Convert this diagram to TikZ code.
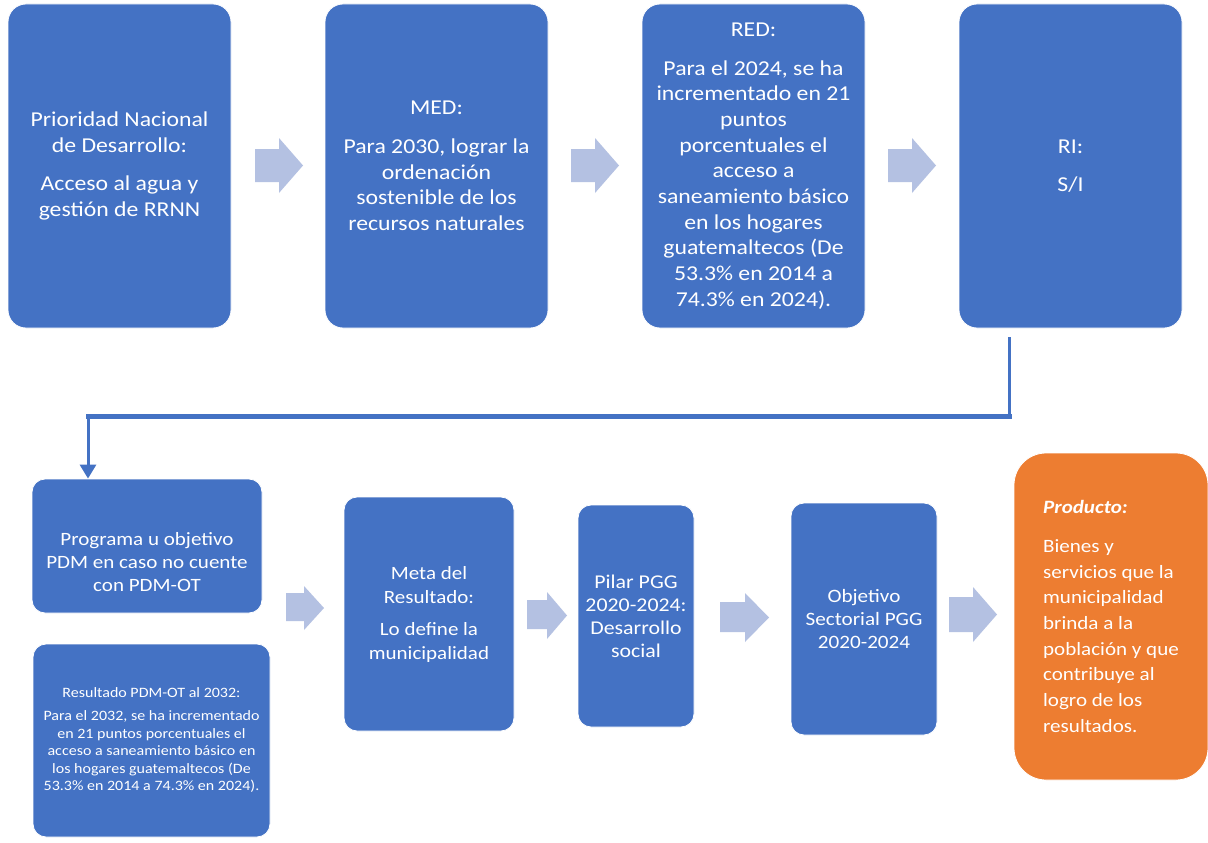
\documentclass[tikz,border=0pt]{standalone}
\usepackage{fontspec}
\setmainfont{Carlito}[FakeStretch=1.12]
\usetikzlibrary{arrows.meta}
\definecolor{boxblue}{HTML}{4472C4}
\definecolor{arrowblue}{HTML}{B4C1E2}
\definecolor{boxorange}{HTML}{ED7D31}
\tikzset{
  box/.style={rectangle, fill=boxblue, draw=white, line width=0.8pt, inner sep=0pt, text=white, align=center},
  topbox/.style={box, rounded corners=18pt, minimum width=223pt, minimum height=324pt, font=\fontsize{21.2}{25.7}\selectfont},
  lowbox/.style={box, rounded corners=13pt},
  barrow/.style={fill=arrowblue},
  conn/.style={draw=boxblue, line width=3pt},
}
\begin{document}
\begin{tikzpicture}[x=1pt, y=-1pt]
\fill[white] (0,0) rectangle (1208,843);
\useasboundingbox (0,0) rectangle (1208,843);

% top row
\node[topbox] (pnd) at (119.5,166) {Prioridad Nacional\\de Desarrollo:\\[13pt]Acceso al agua y\\gestión de RRNN};
\node[topbox] (med) at (436.5,166) {MED:\\[13pt]Para 2030, lograr la\\ordenación\\sostenible de los\\recursos naturales};
\node[topbox] (red) at (753.5,166) {RED:\\[13pt]Para el 2024, se ha\\incrementado en 21\\puntos\\porcentuales el\\acceso a\\saneamiento básico\\en los hogares\\guatemaltecos (De\\53.3\% en 2014 a\\74.3\% en 2024).};
\node[topbox] (ri) at (1070.5,166) {RI:\\[13pt]S/I};

% top block arrows
\fill[barrow] (255,149) -- (279,149) -- (279,138) -- (303,165.5) -- (279,193) -- (279,182) -- (255,182) -- cycle;
\fill[barrow] (571,149) -- (595,149) -- (595,138) -- (619,165.5) -- (595,193) -- (595,182) -- (571,182) -- cycle;
\fill[barrow] (888,149) -- (912,149) -- (912,138) -- (936,165.5) -- (912,193) -- (912,182) -- (888,182) -- cycle;

% bottom row
\node[lowbox, minimum width=230pt, minimum height=134pt] (prog) at (147,546) {};
\node[text=white, align=center, inner sep=0pt, font=\fontsize{18.8}{23}\selectfont] (progt) at (147,562) {Programa u objetivo\\PDM en caso no cuente\\con PDM-OT};
\node[lowbox, minimum width=237pt, minimum height=193pt, font=\fontsize{14.3}{17.5}\selectfont] (res) at (151.5,740.5) {Resultado PDM-OT al 2032:\\[5.5pt]Para el 2032, se ha incrementado\\en 21 puntos porcentuales el\\acceso a saneamiento básico en\\los hogares guatemaltecos (De\\53.3\% en 2014 a 74.3\% en 2024).};
\node[lowbox, minimum width=170pt, minimum height=234pt, font=\fontsize{18.75}{24}\selectfont] (meta) at (429,614) {Meta del\\Resultado:\\[8pt]Lo define la\\municipalidad};
\node[lowbox, minimum width=116pt, minimum height=222pt, font=\fontsize{19.5}{23}\selectfont] (pilar) at (636,616) {Pilar PGG\\2020-2024:\\Desarrollo\\social};
\node[lowbox, minimum width=146pt, minimum height=232pt, font=\fontsize{18.9}{23}\selectfont] (obj) at (864,619) {Objetivo\\Sectorial PGG\\2020-2024};
\node[box, fill=boxorange, rounded corners=32pt, minimum width=194pt, minimum height=327pt, align=left, font=\fontsize{18.8}{25.7}\selectfont] (prod) at (1111,616.5) {\textbf{\textit{Producto:}}\\[13pt]Bienes y\\servicios que la\\municipalidad\\brinda a la\\población y que\\contribuye al\\logro de los\\resultados.};

% bottom block arrows
\fill[barrow] (286,593) -- (304,593) -- (304,586) -- (324,608) -- (304,630) -- (304,621) -- (286,621) -- cycle;
\fill[barrow] (527,600) -- (547,600) -- (547,592) -- (567,615.5) -- (547,639) -- (547,629) -- (527,629) -- cycle;
\fill[barrow] (720,602) -- (745,602) -- (745,593) -- (769,617.5) -- (745,642) -- (745,632) -- (720,632) -- cycle;
\fill[barrow] (949,597) -- (973,597) -- (973,587) -- (997,614.5) -- (973,642) -- (973,632) -- (949,632) -- cycle;

% connector from RI to program box
\coordinate (cs) at (1009.5,337);
\coordinate (cc) at (1009.5,416);
\coordinate (cl) at (88,416);
\coordinate (ce) at (prog.north -| cl);
\draw[conn] (cs) -- (cc);
\draw[conn, line width=5pt, line cap=rect] (cc) -- (cl);
\draw[conn, -{Triangle[width=16pt,length=14pt]}] (cl) -- (ce);
\end{tikzpicture}
\end{document}
